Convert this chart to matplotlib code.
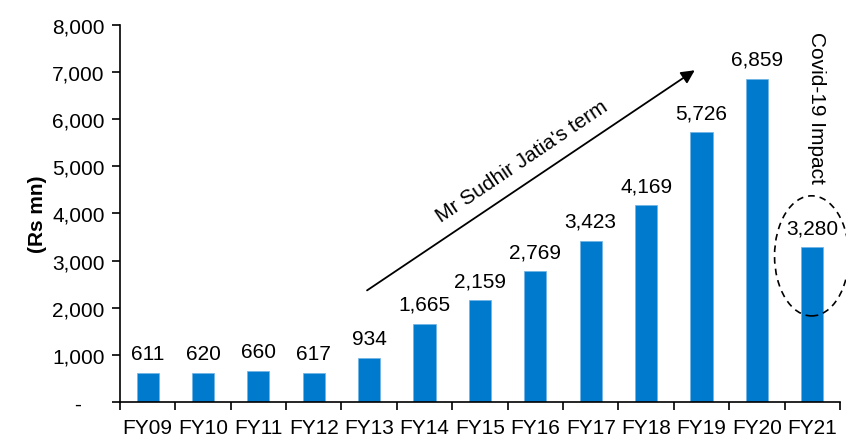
import matplotlib
matplotlib.use("Agg")
import numpy as np
from matplotlib import pyplot as plt
from matplotlib.patches import Ellipse
from matplotlib.ticker import FuncFormatter

years = ["FY09", "FY10", "FY11", "FY12", "FY13", "FY14", "FY15",
         "FY16", "FY17", "FY18", "FY19", "FY20", "FY21"]
revenue = [611, 620, 660, 617, 934, 1665, 2159, 2769, 3423, 4169, 5726, 6859, 3280]

plt.rcParams["font.family"] = ["Liberation Sans", "DejaVu Sans"]
FS = 15

fig = plt.figure(figsize=(8.46, 4.39), dpi=100)
ax = fig.add_axes([0.1418, 0.082, 0.851, 0.859])

x = np.arange(len(years))
bars = ax.bar(x, revenue, width=0.4, color="#007ACC", edgecolor="#6FB3E6", linewidth=0.5)

for xi, v in zip(x, revenue):
    ax.annotate(f"{v:,}", (xi, v), xytext=(0, 7), textcoords="offset points",
                ha="center", va="bottom", fontsize=FS)

ax.set_xlim(-0.5, len(years) - 0.5)
ax.set_ylim(0, 8000)
ax.set_yticks(np.arange(0, 8001, 1000))
# zero shown as a dash, like an accounting number format
ax.yaxis.set_major_formatter(FuncFormatter(lambda v, p: "-    " if v == 0 else f"{int(v):,}"))
ax.set_xticks(x)
ax.set_xticklabels(years)
ax.set_xticks(np.arange(-0.5, len(years), 1), minor=True)
ax.tick_params(axis="x", which="major", length=0, pad=11.5, labelsize=FS)
ax.tick_params(axis="x", which="minor", length=6, width=1.2, direction="out")
ax.tick_params(axis="y", length=6, width=1.2, direction="out", labelsize=FS, pad=5)

for s in ["top", "right"]:
    ax.spines[s].set_visible(False)
ax.spines["left"].set_linewidth(1.2)
ax.spines["bottom"].set_linewidth(1.2)

ax.set_ylabel("(Rs mn)", fontsize=FS, fontweight="bold", labelpad=4)

# arrow for the term
ax.annotate("", xy=(9.92, 7070), xytext=(3.92, 2335),
            arrowprops=dict(arrowstyle="-|>,head_length=0.8,head_width=0.4",
                            color="black", lw=1.3))
ax.text(6.76, 5117, "Mr Sudhir Jatia's term", rotation=34, ha="center", va="center",
        fontsize=FS, rotation_mode="anchor")

ax.text(12.08, 6263, "Covid-19 Impact", rotation=-90, ha="center", va="center",
        fontsize=FS)
ax.add_patch(Ellipse((11.99, 3100), 1.34, 2548, fill=False, linestyle=(0, (4, 3)),
                     linewidth=1.2, edgecolor="black", clip_on=False))

fig.savefig("out.png", dpi=100)
